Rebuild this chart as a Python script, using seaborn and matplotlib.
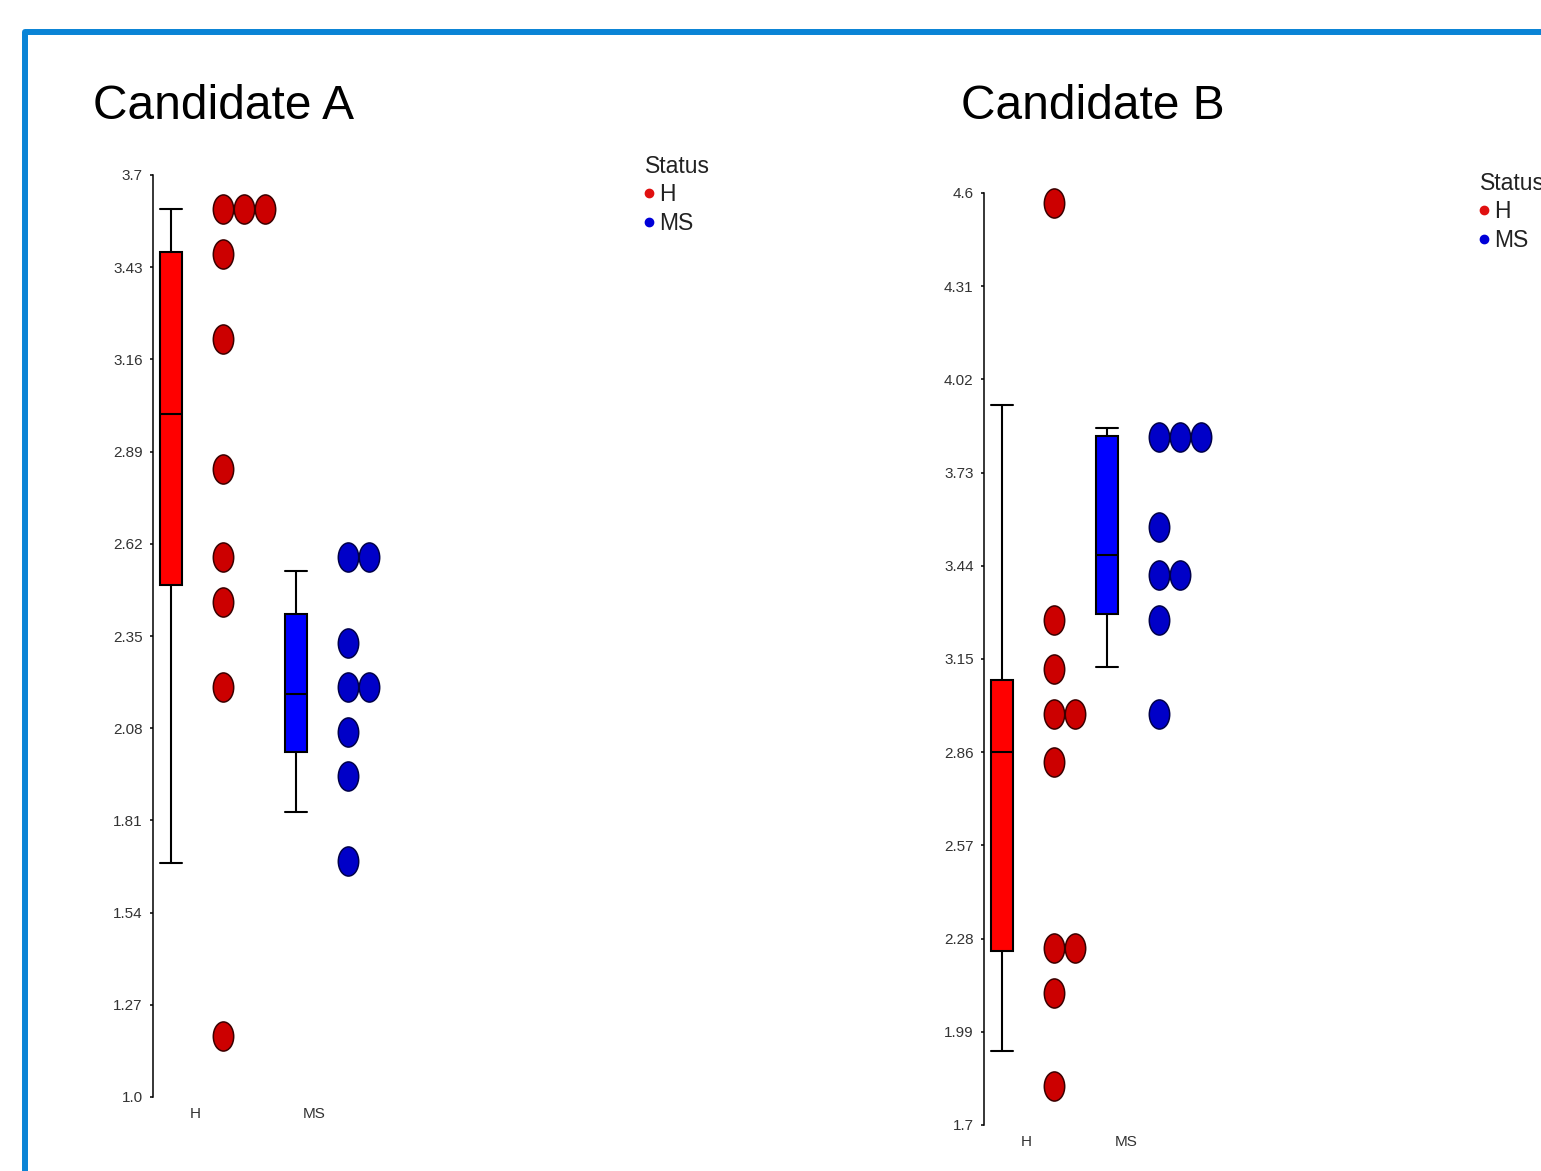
import numpy as np
import pandas as pd
import matplotlib
matplotlib.use("Agg")
import matplotlib.pyplot as plt
from matplotlib.path import Path
from matplotlib.lines import Line2D
from matplotlib.patches import Rectangle
import seaborn as sns

# ---------------- data ----------------
statuses = ["H", "MS"]
titles = ["Candidate A", "Candidate B"]

a_h = [3.60, 3.60, 3.60, 3.47, 3.22, 2.84, 2.58, 2.45, 2.20, 1.18]
a_ms = [2.58, 2.58, 2.33, 2.20, 2.20, 2.07, 1.94, 1.69]
b_h = [4.57, 3.27, 3.12, 2.98, 2.98, 2.83, 2.25, 2.25, 2.11, 1.82]
b_ms = [3.84, 3.84, 3.84, 3.56, 3.41, 3.41, 3.27, 2.98]

# box statistics: [H, MS]
a_whislo = [1.685, 1.835]
a_q1 = [2.50, 2.01]
a_med = [3.00, 2.18]
a_q3 = [3.475, 2.415]
a_whishi = [3.60, 2.54]

b_whislo = [1.93, 3.125]
b_q1 = [2.24, 3.29]
b_med = [2.86, 3.475]
b_q3 = [3.085, 3.845]
b_whishi = [3.94, 3.87]

a_ticks = [1.0, 1.27, 1.54, 1.81, 2.08, 2.35, 2.62, 2.89, 3.16, 3.43, 3.7]
a_ticklabels = ["1.0", "1.27", "1.54", "1.81", "2.08", "2.35", "2.62", "2.89", "3.16", "3.43", "3.7"]
b_ticks = [1.7, 1.99, 2.28, 2.57, 2.86, 3.15, 3.44, 3.73, 4.02, 4.31, 4.6]
b_ticklabels = ["1.7", "1.99", "2.28", "2.57", "2.86", "3.15", "3.44", "3.73", "4.02", "4.31", "4.6"]

# ---------------- style ----------------
sns.set_style("white")
plt.rcParams["font.family"] = ["Liberation Sans", "DejaVu Sans"]

W, H = 1541, 1171
fig = plt.figure(figsize=(W / 100, H / 100), dpi=100)
fig.patch.set_facecolor("white")

box_colors = {"H": "#ff0000", "MS": "#0000ff"}
dot_face = {"H": "#cc0000", "MS": "#0000c8"}
dot_edge = {"H": "#3a0000", "MS": "#00004a"}
leg_colors = {"H": "#e01010", "MS": "#0000d8"}

circ = Path.unit_circle()
ellipse = Path(circ.vertices * np.array([0.7, 1.0]), circ.codes)


def add_ax(left, top, right, bottom):
    return fig.add_axes([left / W, 1 - bottom / H, (right - left) / W, (bottom - top) / H])


panels = [
    dict(values=[a_h, a_ms], whislo=a_whislo, q1=a_q1, med=a_med, q3=a_q3, whishi=a_whishi,
         ticks=a_ticks, ticklabels=a_ticklabels, left=153, top=175, bottom=1097, width=480,
         center0=197, scale=125.0, title=titles[0], title_x=93, title_base=119,
         leg_x=645, leg_y=155),
    dict(values=[b_h, b_ms], whislo=b_whislo, q1=b_q1, med=b_med, q3=b_q3, whishi=b_whishi,
         ticks=b_ticks, ticklabels=b_ticklabels, left=984, top=193, bottom=1125, width=450,
         center0=1027.5, scale=105.5, title=titles[1], title_x=961, title_base=119,
         leg_x=1480, leg_y=172),
]

for p in panels:
    ax = add_ax(p["left"], p["top"], p["left"] + p["width"], p["bottom"])
    sc = p["scale"]
    x0 = -(p["center0"] - p["left"]) / sc
    ax.set_xlim(x0, x0 + p["width"] / sc)
    ax.set_ylim(p["ticks"][0], p["ticks"][-1])

    box_off = -26.0 / sc
    dot_off = 26.0 / sc
    dot_step = 21.0 / sc
    box_w = 22.0 / sc

    # boxes
    stats = []
    for i, s in enumerate(statuses):
        stats.append(dict(med=p["med"][i], q1=p["q1"][i], q3=p["q3"][i],
                          whislo=p["whislo"][i], whishi=p["whishi"][i], fliers=[], label=s))
    bp = ax.bxp(stats, positions=[i + box_off for i in range(len(statuses))], widths=box_w,
                patch_artist=True, showfliers=False, manage_ticks=False,
                boxprops=dict(linewidth=1.5, edgecolor="black"),
                medianprops=dict(color="black", linewidth=1.5),
                whiskerprops=dict(color="black", linewidth=1.5),
                capprops=dict(color="black", linewidth=1.5), capwidths=box_w)
    for patch, s in zip(bp["boxes"], statuses):
        patch.set_facecolor(box_colors[s])
        patch.set_zorder(2)

    # dots
    for i, s in enumerate(statuses):
        df = pd.DataFrame({"value": p["values"][i]})
        df["k"] = df.groupby("value").cumcount()
        df["x"] = i + dot_off + df["k"] * dot_step
        sns.scatterplot(data=df, x="x", y="value", ax=ax, marker=ellipse, s=440,
                        color=dot_face[s], edgecolor=dot_edge[s], linewidth=1.1,
                        legend=False, zorder=3, clip_on=False)

    ax.set_xlabel("")
    ax.set_ylabel("")
    ax.set_yticks(p["ticks"])
    ax.set_yticklabels(p["ticklabels"])
    ax.set_xticks([-0.015, 1 - 0.065])
    ax.set_xticklabels(statuses)
    ax.tick_params(axis="y", which="both", left=True, length=2.5, width=1.1, pad=5,
                   labelsize=11, labelcolor="#333333", color="black")
    ax.tick_params(axis="x", length=0, pad=7, labelsize=11, labelcolor="#333333")
    for side in ["top", "right", "bottom"]:
        ax.spines[side].set_visible(False)
    ax.spines["left"].set_linewidth(1.1)
    ax.spines["left"].set_color("black")
    ax.patch.set_alpha(0)

    # title
    fig.text(p["title_x"] / W, 1 - p["title_base"] / H, p["title"], fontsize=34.5,
             ha="left", va="baseline", color="black")

    # legend
    handles = [Line2D([], [], linestyle="none", marker="o", markersize=6,
                      markerfacecolor=leg_colors[s], markeredgecolor=leg_colors[s])
               for s in statuses]
    leg = fig.legend(handles, statuses, title="Status", loc="upper left",
                     bbox_to_anchor=(p["leg_x"] / W, 1 - p["leg_y"] / H),
                     frameon=False, fontsize=16.5, title_fontsize=16.5,
                     handlelength=0.35, handletextpad=0.25, labelspacing=0.23,
                     borderpad=0, borderaxespad=0)
    leg._legend_box.align = "left"
    leg.get_title().set_color("#222222")
    for t in leg.get_texts():
        t.set_color("#222222")

# blue frame
frame = Rectangle((25 / W, -0.2), 2.0, 1.2 - 32 / H, transform=fig.transFigure,
                  fill=False, edgecolor="#0a84d6", linewidth=4.3, joinstyle="round")
fig.add_artist(frame)

fig.savefig("out.png", dpi=100)
